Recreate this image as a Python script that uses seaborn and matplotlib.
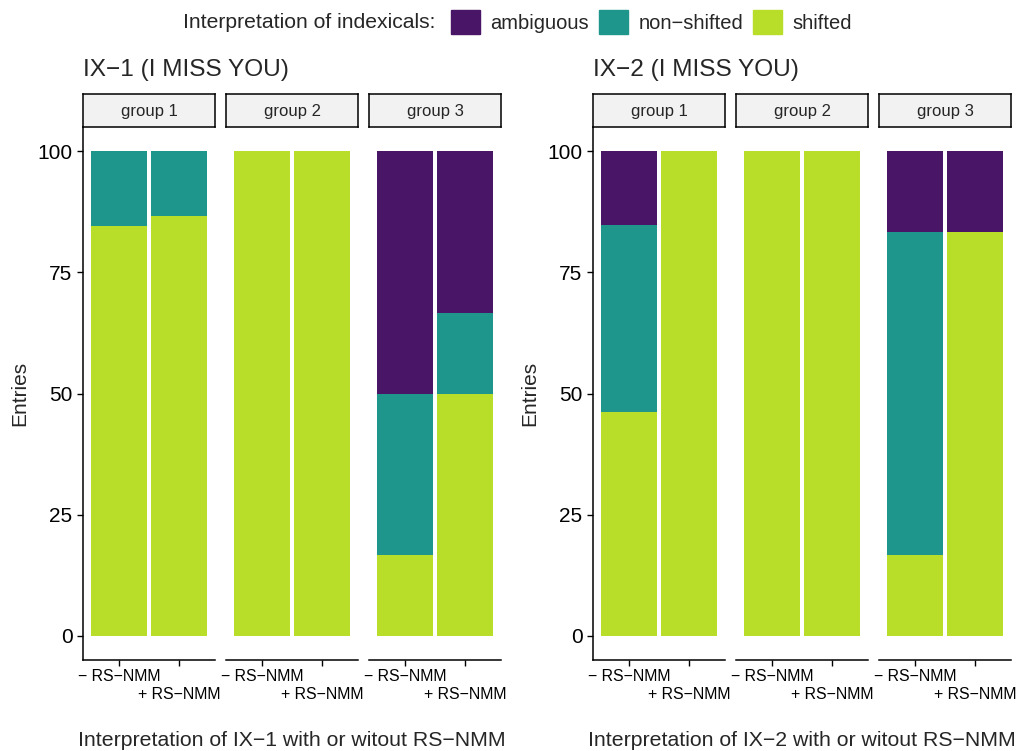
import numpy
import pandas
import matplotlib
matplotlib.use('Agg')
import matplotlib.pyplot as plt
import matplotlib.patches as mpatches
import seaborn

# Data (percent of entries per bar)
panels = ['IX\u22121 (I MISS YOU)', 'IX\u22122 (I MISS YOU)']
xlabels = ['Interpretation of IX\u22121 with or witout RS\u2212NMM',
           'Interpretation of IX\u22122 with or witout RS\u2212NMM']
groups = ['group 1', 'group 2', 'group 3']
conditions = ['\u2212 RS\u2212NMM', '+ RS\u2212NMM']
categories = ['ambiguous', 'non\u2212shifted', 'shifted']

# order: g1 -, g1 +, g2 -, g2 +, g3 -, g3 +
ix1_shifted = [84.6, 86.7, 100.0, 100.0, 16.7, 50.0]
ix1_nonshifted = [15.4, 13.3, 0.0, 0.0, 33.3, 16.7]
ix1_ambiguous = [0.0, 0.0, 0.0, 0.0, 50.0, 33.3]

ix2_shifted = [46.2, 100.0, 100.0, 100.0, 16.7, 83.3]
ix2_nonshifted = [38.5, 0.0, 0.0, 0.0, 66.7, 0.0]
ix2_ambiguous = [15.4, 0.0, 0.0, 0.0, 16.7, 16.7]

colors = {'ambiguous': '#481567', 'non\u2212shifted': '#1F968B', 'shifted': '#B8DE29'}

rows = []
for p, (sh, ns, am) in enumerate([(ix1_shifted, ix1_nonshifted, ix1_ambiguous),
                                  (ix2_shifted, ix2_nonshifted, ix2_ambiguous)]):
    for i in range(6):
        rows.append({'panel': p, 'group': groups[i // 2], 'condition': conditions[i % 2],
                     'shifted': sh[i], 'nonshifted': ns[i], 'ambiguous': am[i]})
df = pandas.DataFrame(rows)
# cumulative heights so the layers can be drawn on top of each other
df['lvl_shifted'] = df['shifted']
df['lvl_nonshifted'] = df['shifted'] + df['nonshifted']
df['lvl_ambiguous'] = df['lvl_nonshifted'] + df['ambiguous']

seaborn.set_style('ticks')
plt.rcParams['font.family'] = ['Liberation Sans', 'DejaVu Sans']

W, H = 1017, 751
fig = plt.figure(figsize=(W / 100, H / 100), dpi=100)

def box(x0, y0, x1, y1):
    return [x0 / W, 1 - y1 / H, (x1 - x0) / W, (y1 - y0) / H]

facet_x = [[(83, 215), (226, 358), (369, 501)],
           [(593, 725), (736, 868), (879, 1011)]]
ax_top, ax_bot = 127, 660

for p in range(2):
    for g, grp in enumerate(groups):
        x0, x1 = facet_x[p][g]
        ax = fig.add_axes(box(x0, ax_top, x1, ax_bot))
        sub = df[(df['panel'] == p) & (df['group'] == grp)]
        for col, cat in [('lvl_ambiguous', 'ambiguous'), ('lvl_nonshifted', 'non\u2212shifted'),
                         ('lvl_shifted', 'shifted')]:
            seaborn.barplot(data=sub, x='condition', y=col, order=conditions, color=colors[cat],
                            saturation=1, width=0.92, errorbar=None, linewidth=0, ax=ax)
        ax.set_xlim(-0.6, 1.6)
        ax.set_ylim(-5, 105)
        ax.set_xlabel('')
        ax.set_ylabel('')
        # dodged tick labels: first on the major tick, second on a minor tick with bigger pad
        ax.set_xticks([0])
        ax.set_xticklabels([conditions[0]], fontsize=11.4, color='black')
        ax.set_xticks([1], minor=True)
        ax.set_xticklabels([conditions[1]], minor=True, fontsize=11.4, color='black')
        ax.tick_params(axis='x', which='major', length=4.5, width=1, pad=2, colors='black')
        ax.tick_params(axis='x', which='minor', length=4.5, width=1, pad=15.2, colors='black')
        for s in ['top', 'right']:
            ax.spines[s].set_visible(False)
        ax.spines['bottom'].set_linewidth(1.1)
        ax.spines['bottom'].set_color('black')
        if g == 0:
            ax.set_yticks([0, 25, 50, 75, 100])
            ax.set_yticklabels(['0', '25', '50', '75', '100'], fontsize=15)
            ax.tick_params(axis='y', length=4.5, width=1, pad=3, colors='black')
            ax.spines['left'].set_linewidth(1.1)
            ax.spines['left'].set_color('black')
        else:
            ax.set_yticks([])
            ax.spines['left'].set_visible(False)

        # facet strip
        sax = fig.add_axes(box(x0, 94, x1, ax_top))
        sax.set_facecolor('#F2F2F2')
        sax.set_xticks([])
        sax.set_yticks([])
        for s in sax.spines.values():
            s.set_color('black')
            s.set_linewidth(1.1)
        sax.text(0.5, 0.48, grp, ha='center', va='center', fontsize=12, transform=sax.transAxes)

    left = facet_x[p][0][0]
    right = facet_x[p][2][1]
    fig.text(left / W, 1 - 70 / H, panels[p], ha='left', va='center', fontsize=17.6)
    fig.text((left - 63) / W, 1 - 393 / H, 'Entries', rotation=90, ha='center', va='center', fontsize=15)
    fig.text((left + right) / 2 / W, 1 - 740 / H, xlabels[p], ha='center', va='center', fontsize=15.3)

# Legend across the top
fig.text(183 / W, 1 - 22 / H, 'Interpretation of indexicals:', ha='left', va='center', fontsize=15.2)
handles = [mpatches.Patch(color=colors[c], label=c) for c in categories]
fig.legend(handles=handles, ncol=3, loc='center left', bbox_to_anchor=(451 / W, 1 - 22 / H),
           frameon=False, fontsize=14.5, handlelength=1.45, handleheight=1.45,
           handletextpad=0.5, columnspacing=0.5, borderpad=0, borderaxespad=0)

fig.savefig('out.png', dpi=100)
